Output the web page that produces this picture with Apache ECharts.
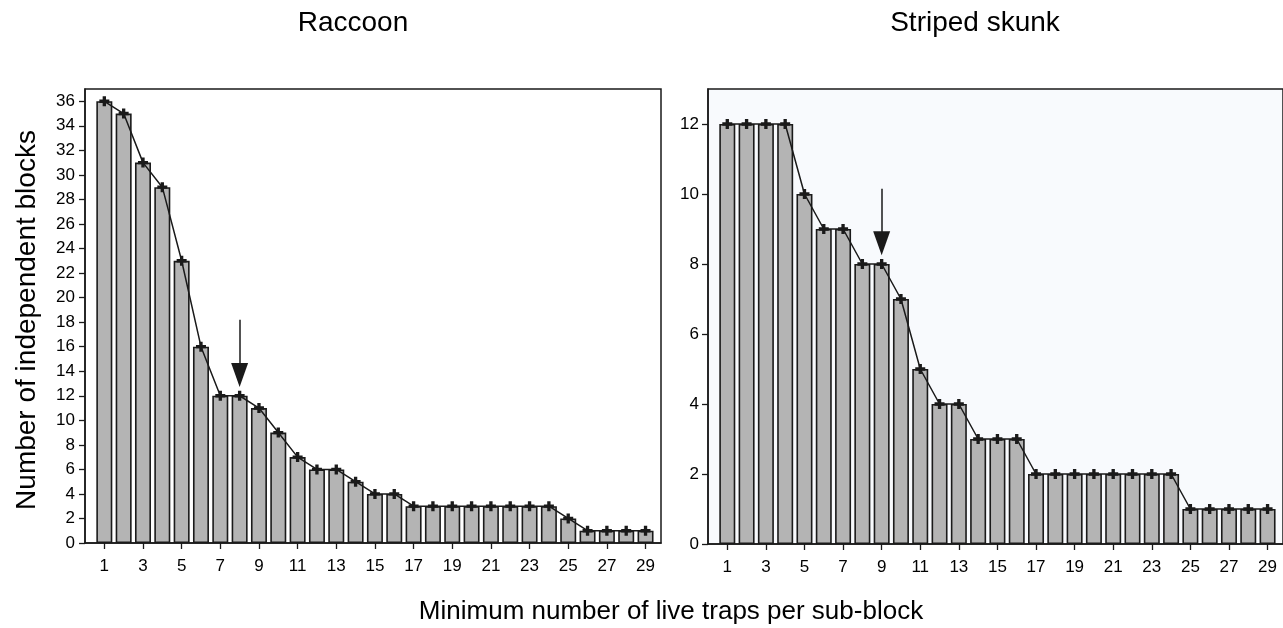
<!DOCTYPE html>
<html>
<head>
<meta charset="utf-8">
<script src="https://cdn.jsdelivr.net/npm/echarts@6/dist/echarts.min.js"></script>
<style>html,body{margin:0;padding:0;background:#fff;}#c{width:1283px;height:628px;}</style>
</head>
<body>
<div id="c"></div>
<script>
const categories = [1,2,3,4,5,6,7,8,9,10,11,12,13,14,15,16,17,18,19,20,21,22,23,24,25,26,27,28,29];
const raccoon = [36,35,31,29,23,16,12,12,11,9,7,6,6,5,4,4,3,3,3,3,3,3,3,3,2,1,1,1,1];
const skunk = [12,12,12,12,10,9,9,8,8,7,5,4,4,3,3,3,2,2,2,2,2,2,2,2,1,1,1,1,1];
const xTickLabels = [1,3,5,7,9,11,13,15,17,19,21,23,25,27,29];
const raccoonYTicks = [0,2,4,6,8,10,12,14,16,18,20,22,24,26,28,30,32,34,36];
const skunkYTicks = [0,2,4,6,8,10,12];
const titles = ['Raccoon', 'Striped skunk'];
const xTitle = 'Minimum number of live traps per sub-block';
const yTitle = 'Number of independent blocks';
// arrows: [x, line top, arrowhead centre]
const raccoonArrow = [8, 18.2, 13.7];
const skunkArrow = [9, 10.15, 8.59];

const FONT = '"Liberation Sans", Arial, Helvetica, sans-serif';
const DARK = '#1a1a1a';
const plus = 'path://M-1.5,-4.5H1.5V-1.5H4.5V1.5H1.5V4.5H-1.5V1.5H-4.5V-1.5H-1.5Z';

function pairs(vals){ return categories.map((c,i)=>[c, vals[i]]); }

function xAxis(gi){
  return {
    type:'value', gridIndex:gi, min:0, max:29.8,
    axisLine:{show:true, onZero:false, lineStyle:{color:DARK, width:1.5}},
    axisTick:{show:true, length:6, customValues:xTickLabels, lineStyle:{color:DARK, width:1.3}},
    axisLabel:{customValues:xTickLabels, color:'#000', fontSize:17, fontFamily:FONT, margin:15},
    splitLine:{show:false}
  };
}
function yAxis(gi, max, ticks, margin){
  return {
    type:'value', gridIndex:gi, min:0, max:max,
    axisLine:{show:true, lineStyle:{color:DARK, width:1.5}},
    axisTick:{show:true, length:6, customValues:ticks, lineStyle:{color:DARK, width:1.3}},
    axisLabel:{customValues:ticks, color:'#000', fontSize:17, fontFamily:FONT, margin:margin},
    splitLine:{show:false}
  };
}
function barSeries(gi, vals){
  return {
    type:'bar', xAxisIndex:gi, yAxisIndex:gi, data:pairs(vals), barWidth:16,
    itemStyle:{color:'#b4b4b4', borderColor:DARK, borderWidth:1.6},
    silent:true, animation:false
  };
}
function lineSeries(gi, vals, arrow){
  return {
    type:'line', xAxisIndex:gi, yAxisIndex:gi, data:pairs(vals), z:5,
    symbol:plus, symbolSize:10, showAllSymbol:true,
    itemStyle:{color:DARK},
    lineStyle:{color:DARK, width:1.5},
    silent:true, animation:false,
    markLine:{
      silent:true, animation:false,
      symbol:['none','triangle'], symbolSize:[17,24],
      label:{show:false},
      lineStyle:{color:DARK, width:1.5, type:'solid'},
      itemStyle:{color:'#000'},
      data:[[{coord:[arrow[0], arrow[1]]},{coord:[arrow[0], arrow[2]]}]]
    }
  };
}

const chart = echarts.init(document.getElementById('c'), null, {renderer:'canvas'});
chart.setOption({
  animation:false,
  grid:[
    {left:85, top:89, width:576, height:454, show:true, borderColor:DARK, borderWidth:1.5, backgroundColor:'#ffffff'},
    {left:708, top:89, width:577, height:455, show:true, borderColor:DARK, borderWidth:1.5, backgroundColor:'#f8fafd'}
  ],
  xAxis:[xAxis(0), xAxis(1)],
  yAxis:[yAxis(0, 37, raccoonYTicks, 10), yAxis(1, 13, skunkYTicks, 9)],
  series:[
    barSeries(0, raccoon), lineSeries(0, raccoon, raccoonArrow),
    barSeries(1, skunk), lineSeries(1, skunk, skunkArrow)
  ],
  graphic:[
    {type:'text', x:353, y:23, style:{text:titles[0], font:'28px '+FONT, fill:'#000', textAlign:'center', textVerticalAlign:'middle'}},
    {type:'text', x:975, y:23, style:{text:titles[1], font:'28px '+FONT, fill:'#000', textAlign:'center', textVerticalAlign:'middle'}},
    {type:'text', x:671, y:612, style:{text:xTitle, font:'26px '+FONT, fill:'#000', textAlign:'center', textVerticalAlign:'middle'}},
    {type:'text', x:27, y:320, rotation:Math.PI/2, style:{text:yTitle, font:'28px '+FONT, fill:'#000', textAlign:'center', textVerticalAlign:'middle'}}
  ]
});
</script>
</body>
</html>
